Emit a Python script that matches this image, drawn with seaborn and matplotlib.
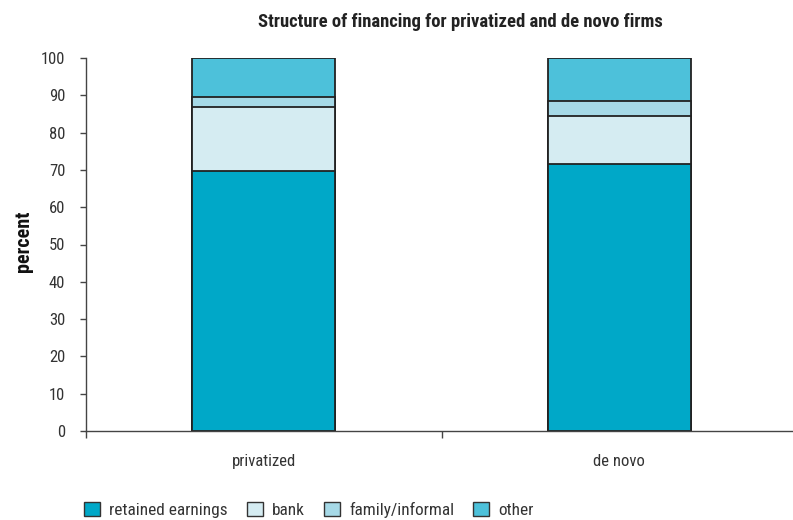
import numpy as np
import pandas as pd
import matplotlib
matplotlib.use("Agg")
import matplotlib.pyplot as plt
from matplotlib.patches import Patch
import seaborn as sns

categories = ["privatized", "de novo"]
sources = ["retained earnings", "bank", "family/informal", "other"]
retained = [69.8, 71.6]
bank = [17.1, 12.8]
family = [2.6, 4.1]
other = [10.5, 11.5]
colors = ["#00a8c8", "#d5ecf2", "#a6d9e7", "#4dc1da"]
yticks = list(range(0, 101, 10))

sns.set_theme(style="white")
plt.rcParams["font.family"] = ["Roboto Condensed", "DejaVu Sans"]

layers = [retained, bank, family, other]
cum = np.cumsum(np.array(layers), axis=0)

fig = plt.figure(figsize=(7.93, 5.20), dpi=100)
ax = fig.add_axes([86 / 793, 89 / 520, (797 - 86) / 793, (431 - 58) / 520])

# stacked bars drawn as overlapping cumulative totals, topmost segment first
for i in range(len(sources) - 1, -1, -1):
    df = pd.DataFrame({"category": categories, "value": cum[i]})
    sns.barplot(data=df, x="category", y="value", color=colors[i], width=0.402,
                edgecolor="#222222", linewidth=1.3, saturation=1, ax=ax)

ax.set_xlim(-0.5, 1.5)
ax.set_ylim(0, 100)
ax.set_yticks(yticks)
ax.set_yticklabels([str(t) for t in yticks], fontsize=12, color="#333333")
ax.set_xticks([-0.5, 0.5, 1.5], minor=False)
ax.set_xticklabels(["", "", ""])
for x, lab in zip([0, 1], categories):
    ax.text(x, -0.083, lab, transform=ax.get_xaxis_transform(), ha="center",
            va="center", fontsize=12, color="#333333")
ax.set_xlabel("")
ax.set_ylabel("")
fig.text(24 / 793, 1 - 241 / 520, "percent", rotation=90, ha="center", va="center",
         fontsize=14.5, fontweight="bold", color="#111111")

for s in ["top", "right"]:
    ax.spines[s].set_visible(False)
for s in ["left", "bottom"]:
    ax.spines[s].set_color("#444444")
    ax.spines[s].set_linewidth(1.0)
ax.tick_params(axis="y", direction="out", length=4, width=1, color="#444444", pad=11, left=True)
ax.tick_params(axis="x", direction="out", length=5, width=1, color="#444444", bottom=True)

fig.text(460 / 793, 1 - 22 / 520, "Structure of financing for privatized and de novo firms",
         ha="center", va="center", fontsize=13.4, fontweight="bold", color="#222222")

handles = [Patch(facecolor=c, edgecolor="#333333", linewidth=1.0) for c in colors]
fig.legend(handles, sources, loc="center left", bbox_to_anchor=(84 / 793, 1 - 510 / 520),
           ncol=4, frameon=False, fontsize=12.4, handlelength=0.92, handleheight=0.82,
           handletextpad=0.55, columnspacing=1.1, borderpad=0, borderaxespad=0,
           labelcolor="#333333")

fig.savefig("out.png", dpi=100)
